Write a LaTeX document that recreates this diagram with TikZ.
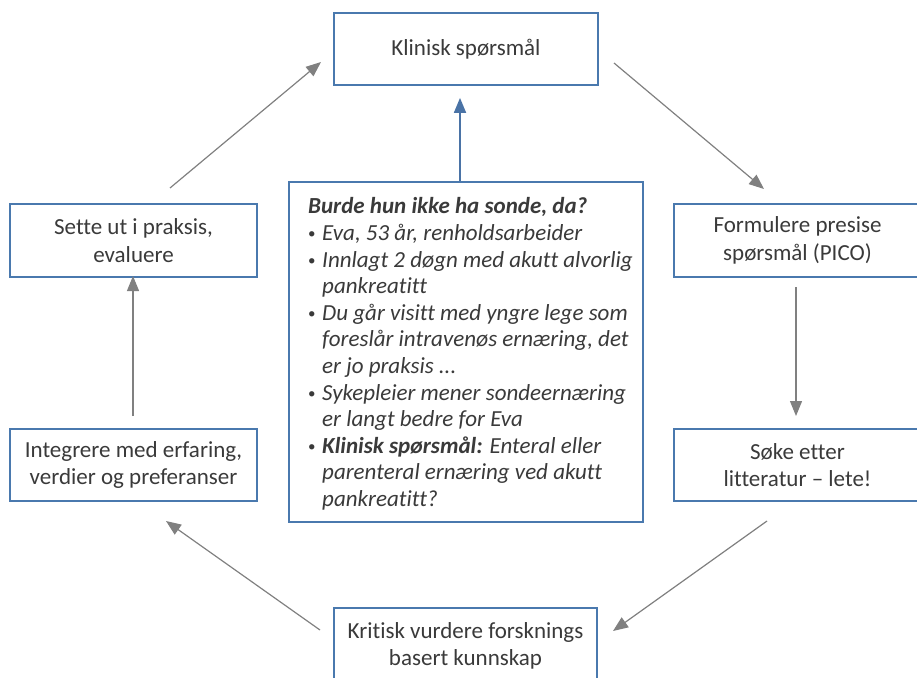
\documentclass[tikz,border=0pt]{standalone}
\usepackage{fontspec}
\setmainfont{Carlito}[Ligatures=NoCommon]
\usetikzlibrary{arrows.meta}
\definecolor{boxblue}{HTML}{4A79AE}
\definecolor{arrgray}{HTML}{808080}
\definecolor{txtgray}{HTML}{3A3A3A}
\definecolor{cblue}{HTML}{4A73A6}
\newcommand{\bulitem}{\makebox[14pt][l]{\raisebox{2pt}{\upshape\fontsize{15}{15}\selectfont\textbullet}}}
\newcommand{\indline}{\hspace*{14pt}}
\begin{document}
\begin{tikzpicture}[x=1pt,y=-1pt,
  stage/.style={draw=boxblue, line width=1.8pt, fill=white, text=txtgray, align=center,
    font=\fontsize{23}{27.5}\selectfont, inner sep=0pt},
  casebox/.style={draw=boxblue, line width=1.8pt, fill=white, inner sep=0pt},
  flow/.style={draw=arrgray, line width=1.2pt, -{Triangle[length=15pt,width=12pt]}},
  upflow/.style={draw=cblue, line width=1.8pt, -{Triangle[length=15pt,width=12pt]}},
  casetext/.style={text=txtgray, align=left, inner sep=0pt, anchor=north west,
    font=\itshape\fontsize{23}{26.6}\selectfont}]
\useasboundingbox (0,0) rectangle (917,677);
\clip (0,0) rectangle (917,677);

\node[stage, minimum width=264pt, minimum height=72pt] (klin) at (466,49) {Klinisk spørsmål};
\node[stage, minimum width=247pt, minimum height=73pt] (form) at (797.5,240.5) {Formulere presise\\spørsmål (PICO)};
\node[stage, minimum width=247pt, minimum height=72pt] (soke) at (797.5,465) {Søke etter\\litteratur – lete!};
\node[stage, minimum width=263pt, minimum height=76pt] (krit) at (465.5,646) {Kritisk vurdere forsknings\\basert kunnskap};
\node[stage, minimum width=247pt, minimum height=72pt] (integ) at (133.5,465) {Integrere med erfaring,\\verdier og preferanser};
\node[stage, minimum width=247pt, minimum height=73pt] (sette) at (133.5,240.5) {Sette ut i praksis,\\evaluere};

\node[casebox, minimum width=354pt, minimum height=340pt] (case) at (466,352) {};
\node[casetext] (casetxt) at (308,195) {\strut\textbf{Burde hun ikke ha sonde, da?}\\
\bulitem Eva, 53 år, renholdsarbeider\\
\bulitem Innlagt 2 døgn med akutt alvorlig\\
\indline pankreatitt\\
\bulitem Du går visitt med yngre lege som\\
\indline foreslår intravenøs ernæring, det\\
\indline er jo praksis ...\\
\bulitem Sykepleier mener sondeernæring\\
\indline er langt bedre for Eva\\
\bulitem \textbf{Klinisk spørsmål:} Enteral eller\\
\indline parenteral ernæring ved akutt\\
\indline pankreatitt?};

\coordinate (tl1) at (170,188); \coordinate (tl2) at (321,62);
\coordinate (tr1) at (614,63);  \coordinate (tr2) at (764,189);
\coordinate (rv1) at (796,287); \coordinate (rv2) at (796,416);
\coordinate (br1) at (767,521); \coordinate (br2) at (613,631);
\coordinate (bl1) at (320,630); \coordinate (bl2) at (166,521);
\coordinate (lv1) at (133,416); \coordinate (lv2) at (133,276);

\draw[flow] (tl1) -- (tl2);
\draw[flow] (tr1) -- (tr2);
\draw[flow] (rv1) -- (rv2);
\draw[flow] (br1) -- (br2);
\draw[flow] (bl1) -- (bl2);
\draw[flow] (lv1) -- (lv2);
\draw[upflow, shorten >=12pt] ([xshift=-6pt]case.north) -- ([xshift=-6pt]klin.south);
\end{tikzpicture}
\end{document}
